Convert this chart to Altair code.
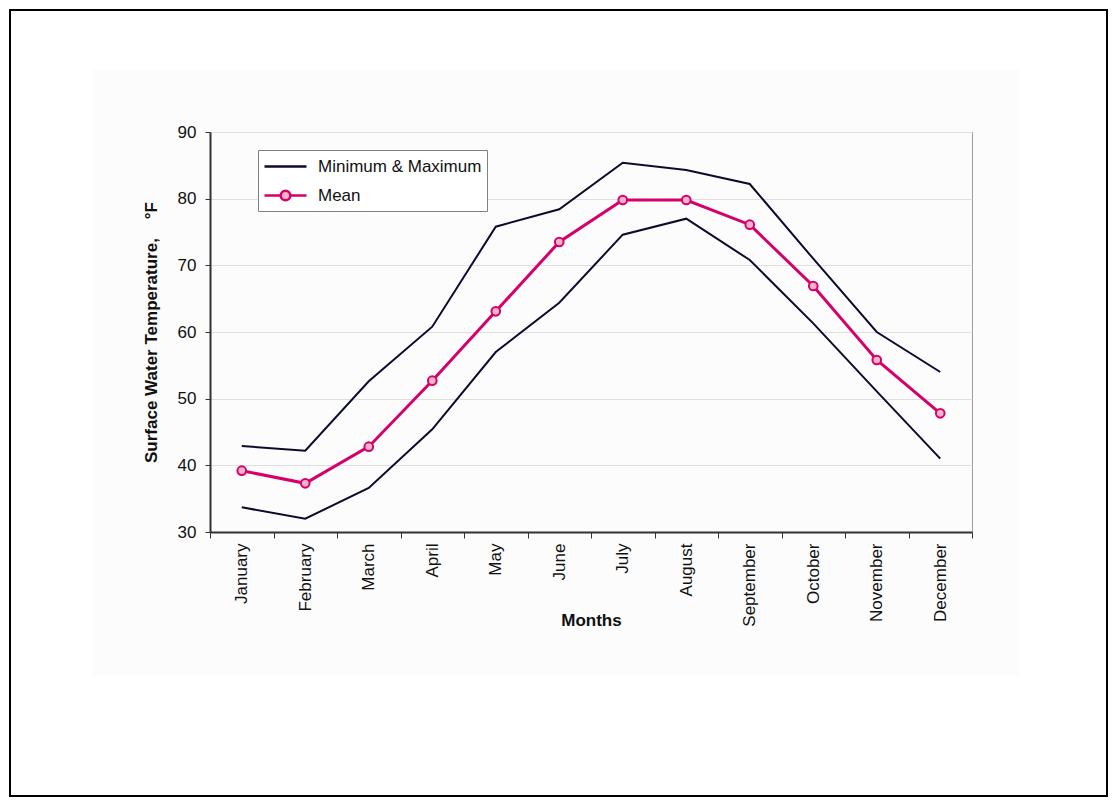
import altair as alt
import pandas as pd

months = ["January", "February", "March", "April", "May", "June",
          "July", "August", "September", "October", "November", "December"]
max_vals = [42.9, 42.2, 52.6, 60.8, 75.8, 78.4, 85.4, 84.3, 82.2, 71.0, 60.0, 54.0]
mean_vals = [39.2, 37.3, 42.8, 52.7, 63.1, 73.5, 79.8, 79.8, 76.1, 66.9, 55.8, 47.8]
min_vals = [33.7, 32.0, 36.6, 45.4, 57.0, 64.4, 74.6, 77.0, 70.8, 61.3, 51.1, 41.0]
y_ticks = [30, 40, 50, 60, 70, 80, 90]
series_labels = ["Minimum & Maximum", "Mean"]

NAVY = "#0b0b2e"
MAG = "#d6006a"
PINK = "#f4b3c8"
FONT = "Liberation Sans"

mm_rows = []
for m, v in zip(months, max_vals):
    mm_rows.append({"month": m, "value": v, "kind": "max", "series": series_labels[0]})
for m, v in zip(months, min_vals):
    mm_rows.append({"month": m, "value": v, "kind": "min", "series": series_labels[0]})
df_mm = pd.DataFrame(mm_rows)
df_mean = pd.DataFrame({"month": months, "value": mean_vals, "series": series_labels[1]})
df_all = pd.concat([df_mm, df_mean], ignore_index=True)

y_title = "Surface Water Temperature," + "\u00a0" * 4 + "\u00b0F"

x_enc = alt.X("month:N", sort=months,
              scale=alt.Scale(type="band", domain=months, paddingInner=0, paddingOuter=0),
              axis=alt.Axis(title="Months", labelAngle=-90, tickBand="extent",
                            labelFontSize=17, labelFont=FONT, labelColor="#111",
                            labelPadding=5, tickSize=6, tickColor="#333", domainColor="#333",
                            domainWidth=2, grid=False,
                            titleFont=FONT, titleFontSize=17, titleFontWeight="bold",
                            titleColor="#111", titleY=88, titleBaseline="middle"))
y_enc = alt.Y("value:Q",
              scale=alt.Scale(domain=[30, 90], nice=False, zero=False),
              axis=alt.Axis(title=y_title, values=y_ticks,
                            labelFontSize=17, labelFont=FONT, labelColor="#111",
                            labelPadding=9, tickSize=5, tickColor="#333", domainColor="#333",
                            domainWidth=2, grid=True, gridColor="#e2e2e2", gridWidth=1,
                            titleFont=FONT, titleFontSize=17, titleFontWeight="bold",
                            titleColor="#111", titleX=-59, titleY=200,
                            titleBaseline="middle", titleAngle=-90))

# decorative backgrounds / frame
bg = alt.Chart(alt.Data(values=[{}])).mark_rect(fill="black", opacity=0.012).encode(
    x=alt.value(-118), x2=alt.value(810), y=alt.value(-62), y2=alt.value(543))
frame = alt.Chart(alt.Data(values=[{}])).mark_rect(
    filled=False, stroke="black", strokeWidth=2).encode(
    x=alt.value(-200), x2=alt.value(897), y=alt.value(-122), y2=alt.value(664))

mm_lines = alt.Chart(df_mm).mark_line(color=NAVY, strokeWidth=2).encode(
    x=x_enc, y=y_enc, detail="kind:N")
mean_line = alt.Chart(df_mean).mark_line(color=MAG, strokeWidth=3).encode(x=x_enc, y=y_enc)
mean_pts = alt.Chart(df_mean).mark_point(filled=True, fill=PINK, stroke=MAG,
                                         strokeWidth=2, size=75, opacity=1).encode(x=x_enc, y=y_enc)

path_line = "M-1,0H3.2"
path_mean = "M-1,0H0.62A0.48,0.48,0,1,1,1.58,0H3.2M1.58,0A0.48,0.48,0,1,1,0.62,0"

leg = alt.Legend(title=None, orient="none", legendX=48, legendY=18,
                 fillColor="white", strokeColor="#808080", padding=5,
                 labelFont=FONT, labelFontSize=17, labelColor="#111", labelLimit=400,
                 rowPadding=9, symbolSize=400, symbolStrokeWidth=2.5,
                 labelOffset=32, symbolOpacity=1)

legend_layer = alt.Chart(df_all).transform_filter("false").mark_point(filled=True).encode(
    x=x_enc, y=y_enc,
    fill=alt.Fill("series:N", scale=alt.Scale(domain=series_labels, range=[NAVY, PINK]), legend=leg),
    stroke=alt.Stroke("series:N", scale=alt.Scale(domain=series_labels, range=[NAVY, MAG]), legend=leg),
    shape=alt.Shape("series:N", scale=alt.Scale(domain=series_labels, range=[path_line, path_mean]), legend=leg),
)

chart = alt.layer(bg, frame, mm_lines, mean_line, mean_pts, legend_layer).properties(
    width=762, height=400,
    autosize=alt.AutoSizeParams(type="none"),
    padding={"left": 202, "top": 124, "right": 137, "bottom": 266},
    background="white",
).configure_view(stroke="#a0a0a0", strokeWidth=1)

chart.save("out.html", embed_options={"renderer": "svg", "actions": False})
